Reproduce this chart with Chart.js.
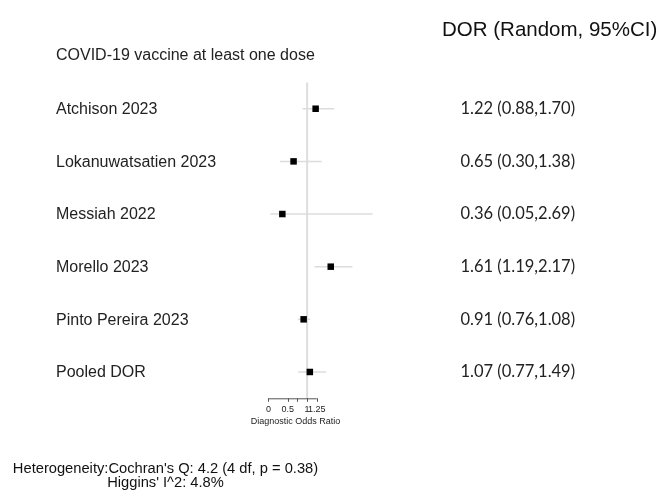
<!DOCTYPE html>
<html><head><meta charset="utf-8">
<script src="https://cdn.jsdelivr.net/npm/chart.js@4.4.1/dist/chart.umd.min.js"></script>
<style>html,body{margin:0;padding:0;background:#fff}#wrap{width:660px;height:498px;position:relative}</style>
</head><body><div id="wrap"><canvas id="c" width="660" height="498"></canvas></div>
<script>
// ---- data ----
const studies = ['Atchison 2023','Lokanuwatsatien 2023','Messiah 2022','Morello 2023','Pinto Pereira 2023','Pooled DOR'];
const dor   = [1.22, 0.65, 0.36, 1.61, 0.91, 1.07];
const lower = [0.88, 0.30, 0.05, 1.19, 0.76, 0.77];
const upper = [1.70, 1.38, 2.69, 2.17, 1.08, 1.49];
const ciLabels = ['1.22 (0.88,1.70)','0.65 (0.30,1.38)','0.36 (0.05,2.69)','1.61 (1.19,2.17)','0.91 (0.76,1.08)','1.07 (0.77,1.49)'];
const tickValues = [0, 0.5, 0.75, 1, 1.25];
const tickLabels = ['0', '0.5', '', '1', '1.25'];
const nullValue = 1;
const headerText = 'COVID-19 vaccine at least one dose';
const columnTitle = 'DOR (Random, 95%CI)';
const axisTitle = 'Diagnostic Odds Ratio';
const heterogeneity = ["Heterogeneity:Cochran's Q: 4.2 (4 df, p = 0.38)", "Higgins' I^2: 4.8%"];

const rows = studies.map((s, i) => i + 1);

const forestPlugin = {
  id: 'forest',
  beforeDatasetsDraw(chart) {
    const ctx = chart.ctx, x = chart.scales.x, y = chart.scales.y, a = chart.chartArea;
    ctx.save();
    // reference line at null value
    ctx.strokeStyle = '#dedede';
    ctx.lineWidth = 2;
    ctx.beginPath();
    const xr = x.getPixelForValue(nullValue);
    ctx.moveTo(xr, a.top); ctx.lineTo(xr, a.bottom);
    ctx.stroke();
    // CI whiskers
    ctx.strokeStyle = '#dcdcdc';
    ctx.lineWidth = 1.5;
    rows.forEach((r, i) => {
      const yp = y.getPixelForValue(r);
      ctx.beginPath();
      ctx.moveTo(x.getPixelForValue(lower[i]), yp);
      ctx.lineTo(x.getPixelForValue(upper[i]), yp);
      ctx.stroke();
    });
    ctx.restore();
  },
  afterDraw(chart) {
    const ctx = chart.ctx, x = chart.scales.x, y = chart.scales.y, a = chart.chartArea;
    ctx.save();
    // x axis (drawn only over the tick range)
    const x0 = x.getPixelForValue(tickValues[0]);
    const x1 = x.getPixelForValue(tickValues[tickValues.length - 1]);
    const ya = a.bottom;
    ctx.strokeStyle = '#555';
    ctx.lineWidth = 1;
    ctx.beginPath();
    ctx.moveTo(x0, ya + 0.5); ctx.lineTo(x1, ya + 0.5);
    tickValues.forEach(v => {
      const xp = Math.round(x.getPixelForValue(v)) + 0.5;
      ctx.moveTo(xp, ya); ctx.lineTo(xp, ya + 3.5);
    });
    ctx.stroke();
    ctx.fillStyle = '#222';
    ctx.font = '9px "Liberation Sans", Arial, sans-serif';
    ctx.textAlign = 'center';
    ctx.textBaseline = 'middle';
    tickValues.forEach((v, i) => {
      if (tickLabels[i]) ctx.fillText(tickLabels[i], x.getPixelForValue(v), ya + 11);
    });
    ctx.fillText(axisTitle, (x0 + x1) / 2 + 3, ya + 23);

    // left labels
    ctx.textAlign = 'left';
    ctx.fillStyle = '#222';
    ctx.font = '16px "Liberation Sans", Arial, sans-serif';
    ctx.fillText(headerText, 56, 56);
    rows.forEach((r, i) => ctx.fillText(studies[i], 56, y.getPixelForValue(r) + 1));

    // right column
    ctx.font = '20.5px "Liberation Sans", Arial, sans-serif';
    ctx.fillStyle = '#111';
    ctx.fillText(columnTitle, 442, 30);
    ctx.font = '16.5px Lato, "Open Sans", sans-serif';
    ctx.fillStyle = '#222';
    rows.forEach((r, i) => ctx.fillText(ciLabels[i], 460.5, y.getPixelForValue(r)));

    // heterogeneity
    ctx.textAlign = 'center';
    ctx.font = '14.7px "Liberation Sans", Arial, sans-serif';
    ctx.fillStyle = '#111';
    ctx.fillText(heterogeneity[0], 165.5, 469);
    ctx.fillText(heterogeneity[1], 165.5, 483);
    ctx.restore();
  }
};

// x scale: 0 -> 268.4 px, 38.72 px per unit; range 0..3 keeps every point inside the area
const xMax = 3;
const pxPerUnit = 38.72;
const areaLeft = 268.4;
new Chart(document.getElementById('c'), {
  type: 'scatter',
  data: {
    datasets: [{
      data: rows.map((r, i) => ({ x: dor[i], y: r })),
      pointStyle: 'rect',
      pointRadius: 4.6,
      pointHoverRadius: 4.6,
      backgroundColor: '#000',
      borderColor: '#000',
      borderWidth: 0,
      clip: false
    }]
  },
  options: {
    responsive: false,
    devicePixelRatio: 1,
    animation: false,
    events: [],
    layout: { padding: { left: areaLeft, right: 660 - areaLeft - xMax * pxPerUnit, top: 82.4, bottom: 99.7 } },
    plugins: { legend: { display: false }, tooltip: { enabled: false } },
    scales: {
      x: { type: 'linear', min: 0, max: xMax, display: false },
      y: { type: 'linear', min: 0.5, max: 6.5, reverse: true, display: false }
    }
  },
  plugins: [forestPlugin]
});
</script>
</body></html>
